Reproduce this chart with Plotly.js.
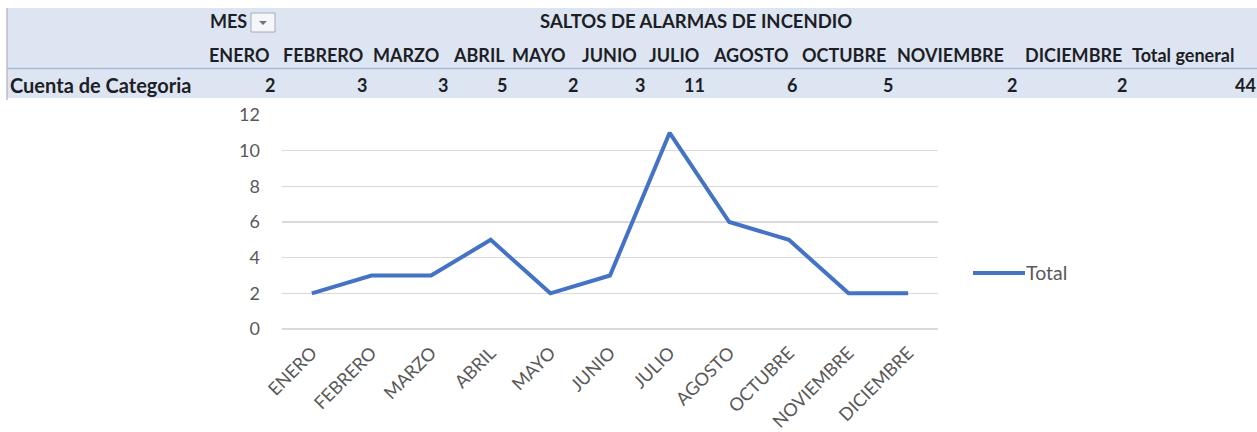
<!DOCTYPE html>
<html>
<head>
<meta charset="utf-8">
<script src="https://cdn.plot.ly/plotly-3.0.1.min.js"></script>
<style>html,body{margin:0;padding:0;background:#fff;}#chart{width:1257px;height:432px;}</style>
</head>
<body>
<div id="chart"></div>
<script>
// ---- data ----
var months = ['ENERO','FEBRERO','MARZO','ABRIL','MAYO','JUNIO','JULIO','AGOSTO','OCTUBRE','NOVIEMBRE','DICIEMBRE'];
var counts = [2,3,3,5,2,3,11,6,5,2,2];
var totalLabel = 'Total general';
var totalValue = 44;
var tableTitle = 'SALTOS DE ALARMAS DE INCENDIO';
var fieldLabel = 'MES';
var rowLabel = 'Cuenta de Categoria';
var seriesName = 'Total';
var yTicks = [0,2,4,6,8,10,12];

// ---- layout geometry (pixels) ----
var L = 282, R = 938, T = 115, B = 329;
var W = R - L, H = B - T;
function X(px){ return (px - L) / W; }
function Y(py){ return (B - py) / H; }
var colLeft  = [209,283,373,453,512,582,649,713,802,897,1025,1132];
var colRight = [275,367,448,507,578,645,705,797,893,1017,1127,1256];
var row1 = 21, row2 = 55, row3 = 85;

var FONT = 'Lato, "Open Sans", sans-serif';
var tFont = {family:FONT, size:18, color:'#1e1e26'};
var annotations = [];
function ann(text, px, py, anchor, font){
  annotations.push({text:'<b>'+text+'</b>', x:X(px), y:Y(py), xref:'paper', yref:'paper',
    xanchor:anchor, yanchor:'middle', showarrow:false, borderpad:0, borderwidth:0,
    font:font || tFont});
}
ann(fieldLabel, 210, row1, 'left');
ann(tableTitle, 540, row1, 'left', {family:FONT, size:18.5, color:'#1e1e26'});
var headers = months.concat([totalLabel]);
var values = counts.concat([totalValue]);
headers.forEach(function(h,i){ ann(h, colLeft[i], row2, 'left'); });
values.forEach(function(v,i){ ann(String(v), colRight[i], row3, 'right'); });
ann(rowLabel, 10, row3, 'left', {family:FONT, size:20, color:'#1e1e26'});

// legend (drawn)
annotations.push({text:seriesName, x:X(1026), y:Y(272), xref:'paper', yref:'paper',
  xanchor:'left', yanchor:'middle', showarrow:false, borderpad:0, borderwidth:0,
  font:{family:FONT, size:19.5, color:'#595959'}});

var shapes = [
  {type:'rect', xref:'paper', yref:'paper', x0:X(7), x1:X(1257), y0:Y(8), y1:Y(98),
   fillcolor:'#dde5f2', line:{width:0}, layer:'below'},
  {type:'line', xref:'paper', yref:'paper', x0:X(7), x1:X(1257), y0:Y(68.5), y1:Y(68.5),
   line:{color:'#a9bbd9', width:1.5}},
  {type:'line', xref:'paper', yref:'paper', x0:X(7), x1:X(7), y0:Y(8), y1:Y(100),
   line:{color:'#b8bcc4', width:1.5}},
  {type:'rect', xref:'paper', yref:'paper', x0:X(251), x1:X(275), y0:Y(13), y1:Y(32),
   fillcolor:'#f4f6fa', line:{color:'#a8acb4', width:1}},
  {type:'path', xref:'paper', yref:'paper',
   path:'M '+X(259)+' '+Y(21)+' L '+X(267)+' '+Y(21)+' L '+X(263)+' '+Y(25)+' Z',
   fillcolor:'#6f7378', line:{width:0}},
  {type:'line', xref:'paper', yref:'paper', x0:X(973), x1:X(1025), y0:Y(273), y1:Y(273),
   line:{color:'#4472c4', width:4}}
];

var trace = {
  type:'scatter', mode:'lines', x:months, y:counts, name:seriesName,
  line:{color:'#4472c4', width:4}, showlegend:false, hoverinfo:'x+y'
};

var layout = {
  width:1257, height:432,
  margin:{l:L, r:1257-R, t:T, b:432-B, pad:0},
  paper_bgcolor:'#ffffff', plot_bgcolor:'#ffffff',
  showlegend:false,
  xaxis:{type:'category', range:[-0.5, months.length-0.5], showgrid:false, zeroline:false,
    showline:false, ticks:'', tickangle:-45, ticklabelstandoff:9,
    tickfont:{family:FONT, size:18, color:'#595959'}},
  yaxis:{range:[0,12], tickvals:yTicks, showgrid:true, gridcolor:'#d9d9d9', gridwidth:1.3,
    zeroline:true, zerolinecolor:'#d9d9d9', zerolinewidth:1.3, showline:false, ticks:'',
    ticklabelstandoff:21,
    tickfont:{family:FONT, size:18, color:'#595959'}},
  annotations:annotations,
  shapes:shapes
};

Plotly.newPlot('chart', [trace], layout, {displayModeBar:false, staticPlot:true});
</script>
</body>
</html>
